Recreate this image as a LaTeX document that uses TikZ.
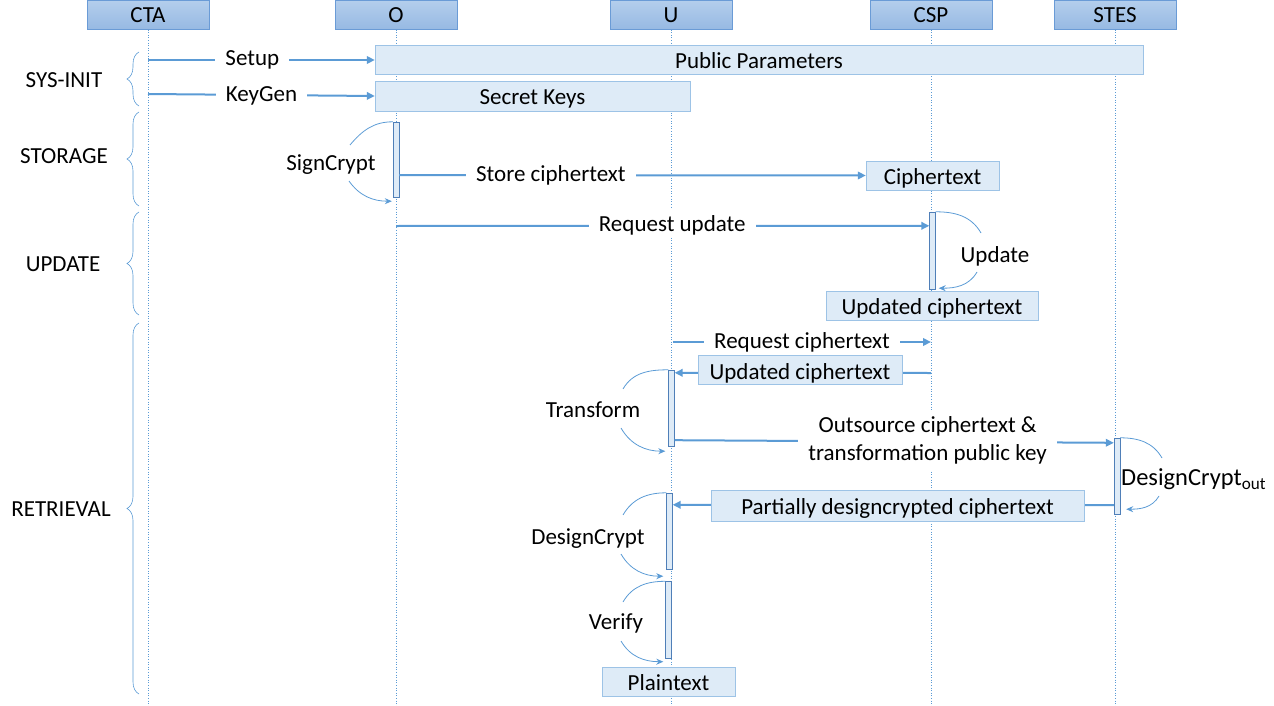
\documentclass[tikz,border=0pt]{standalone}
\usepackage{fontspec}
\setmainfont{Carlito}
\usetikzlibrary{arrows.meta,decorations.pathreplacing}

\definecolor{lineblue}{HTML}{5B9BD5}
\definecolor{headtop}{HTML}{B4CEEC}
\definecolor{headbot}{HTML}{96B9E3}
\definecolor{headedge}{HTML}{6A9BD6}
\definecolor{boxfill}{HTML}{DEEBF7}
\definecolor{boxedge}{HTML}{9DC3E6}
\definecolor{baredge}{HTML}{4F7FB8}

\tikzset{
  oneline/.style={text height=19pt, text depth=1pt},
  freetext/.style={text height=17pt, text depth=1pt},
  party/.style={text height=17pt, text depth=1pt, draw=headedge, top color=headtop, bottom color=headbot,
    minimum width=122pt, minimum height=29pt, inner sep=0pt},
  result/.style={oneline, draw=boxedge, fill=boxfill, minimum height=29pt, inner sep=0pt},
  actbar/.style={draw=baredge, fill=boxfill, minimum width=6pt, inner sep=0pt},
  lifeline/.style={lineblue, dotted, line width=0.6pt},
  msg/.style={lineblue, line width=2pt, -{Triangle[length=8pt,width=7.5pt]}},
  selfarc/.style={lineblue, line width=0.8pt},
  selfarrow/.style={selfarc, -{Stealth[length=7pt,width=6pt]}},
  msglabel/.style={oneline, yshift=3pt, text=black, fill=white, inner xsep=10pt, inner ysep=4pt},
  phase/.style={lineblue, line width=0.6pt, decorate, decoration={brace, amplitude=12pt}},
}

\begin{document}
\begin{tikzpicture}[x=1pt, y=-1pt, font=\fontsize{23}{27}\selectfont]
\useasboundingbox (0,0) rectangle (1274,706);

\newcommand\xCTA{148};
\newcommand\xO{396};
\newcommand\xU{671};
\newcommand\xCSP{931};
\newcommand\xSTES{1115};

% parties and lifelines
\node[party] (cta)  at (\xCTA,15)  {CTA};
\node[party] (o)    at (\xO,15)    {O};
\node[party] (u)    at (\xU,15)    {U};
\node[party] (csp)  at (\xCSP,15)  {CSP};
\node[party] (stes) at (\xSTES,15) {STES};
\coordinate (bottom) at (0,706);
\foreach \p in {cta,o,u,csp,stes}
  \draw[lifeline] (\p.south) -- (\p.south |- bottom);

% phases
\draw[phase] (139,106) -- (139,52);
\draw[phase] (139,206) -- (139,112);
\draw[phase] (139,315) -- (139,212);
\draw[phase] (139,694) -- (139,323);
\node[freetext] (sysinit)   at (64,80)  {SYS-INIT};
\node[freetext] (storage)   at (64,156) {STORAGE};
\node[freetext] (update)    at (63,263) {UPDATE};
\node[freetext] (retrieval) at (61,508) {RETRIEVAL};

% activation bars
\node[actbar, minimum height=75pt] (barO)    at (396,159.5)  {};
\node[actbar, minimum height=77pt] (barCSP)  at (932.5,250.5) {};
\node[actbar, minimum height=76pt] (barU1)   at (671.5,408)  {};
\node[actbar, minimum height=76pt] (barU2)   at (669.5,531)  {};
\node[actbar, minimum height=77pt] (barU3)   at (668.5,620)  {};
\node[actbar, minimum height=76pt] (barSTES) at (1117,476)   {};

% sys-init
\node[result, minimum width=768pt] (pub)    at (759,60)   {Public Parameters};
\node[result, minimum width=315pt, minimum height=30pt] (secret) at (532.5,96) {Secret Keys};
\coordinate (cta-setup)  at (\xCTA,60);
\coordinate (cta-keygen) at (\xCTA,94);
\draw[msg] (cta-setup) -- node[msglabel, pos=.46] (setup) {Setup} (pub.west);
\draw[msg] (cta-keygen) -- node[msglabel, pos=.50, yshift=-1pt] (keygen) {KeyGen} (secret.west);

% storage
\node[freetext] (signcrypt) at (331,163) {SignCrypt};
\coordinate (sc-a) at (350,145);
\coordinate (sc-b) at (349,181);
\draw[selfarc] (barO.north west) to[out=180,in=50] (sc-a);
\draw[selfarrow] (sc-b) to[out=-55,in=180] ([xshift=-1pt,yshift=-4pt]barO.south west);
\node[result, minimum width=133pt] (ctext) at (932.5,175.5) {Ciphertext};
\draw[msg] ([yshift=22pt]barO.south east) -- node[msglabel, pos=.325] (store) {Store ciphertext} (ctext.west);

% update
\coordinate (o-req) at (\xO,226);
\draw[msg] (o-req) -- node[msglabel, pos=.518] (requpd) {Request update} ([yshift=-14pt]barCSP.north west);
\node[freetext] (upd) at (995,254) {Update};
\coordinate (up-a) at (981,233);
\coordinate (up-b) at (977,272);
\draw[selfarc] (barCSP.north east) to[out=0,in=120] (up-a);
\draw[selfarrow] (up-b) to[out=240,in=0] ([xshift=3pt,yshift=1pt]barCSP.south east);
\node[result, minimum width=212pt] (upd1) at (932,305.5) {Updated ciphertext};

% retrieval
\coordinate (u-req)   at (673,342);
\coordinate (csp-req) at (\xCSP,342);
\draw[msg] (u-req) -- node[msglabel, pos=.50] (reqct) {Request ciphertext} (csp-req);
\coordinate (csp-rep) at (\xCSP,373);
\draw[msg] (csp-rep) -- ([yshift=-3pt]barU1.north east);
\node[result, minimum width=204pt] (upd2) at (800,370) {Updated ciphertext};

\node[freetext] (transform) at (593,409) {Transform};
\coordinate (tr-a) at (623,389);
\coordinate (tr-b) at (621,428);
\draw[selfarc] (barU1.north west) to[out=180,in=60] (tr-a);
\draw[selfarrow] (tr-b) to[out=-60,in=180] ([xshift=-3pt,yshift=-5pt]barU1.south west);

\draw[msg] ([yshift=6pt]barU1.south east) -- node[text=black, fill=white, inner xsep=10pt,
  inner ysep=5pt, pos=.576, align=center, font=\fontsize{23}{28}\selectfont, yshift=1pt] (outsrc)
  {Outsource ciphertext \&\\transformation public key} ([yshift=-5pt]barSTES.north west);

\node[anchor=west, inner sep=0pt, font=\fontsize{24.5}{28}\selectfont] (dcout) at (1121,479) {DesignCrypt\textsubscript{out}};
\coordinate (dco-a) at (1162,458);
\coordinate (dco-b) at (1159,496);
\draw[selfarc] (barSTES.north east) to[out=0,in=120] (dco-a);
\draw[selfarrow] (dco-b) to[out=240,in=0] ([xshift=6pt,yshift=5pt]barSTES.south east);

\draw[msg] ([yshift=9pt]barSTES.south west) -- ([yshift=-12pt]barU2.north east);
\node[result, minimum width=373pt, minimum height=31pt] (partial) at (897.5,505.5)
  {Partially designcrypted ciphertext};

\node[freetext] (designcrypt) at (588,536) {DesignCrypt};
\coordinate (dc-a) at (623,515);
\coordinate (dc-b) at (621,554);
\draw[selfarc] (barU2.north west) to[out=180,in=60] (dc-a);
\draw[selfarrow] (dc-b) to[out=-60,in=180] ([xshift=-3pt,yshift=-7pt]barU2.south west);

\node[freetext] (verify) at (616,621) {Verify};
\coordinate (vf-a) at (623,602);
\coordinate (vf-b) at (621,641);
\draw[selfarc] (barU3.north west) to[out=180,in=60] (vf-a);
\draw[selfarrow] (vf-b) to[out=-60,in=180] ([xshift=-2pt,yshift=-3pt]barU3.south west);

\node[result, minimum width=133pt] (plain) at (668.5,681.5) {Plaintext};

\end{tikzpicture}
\end{document}
